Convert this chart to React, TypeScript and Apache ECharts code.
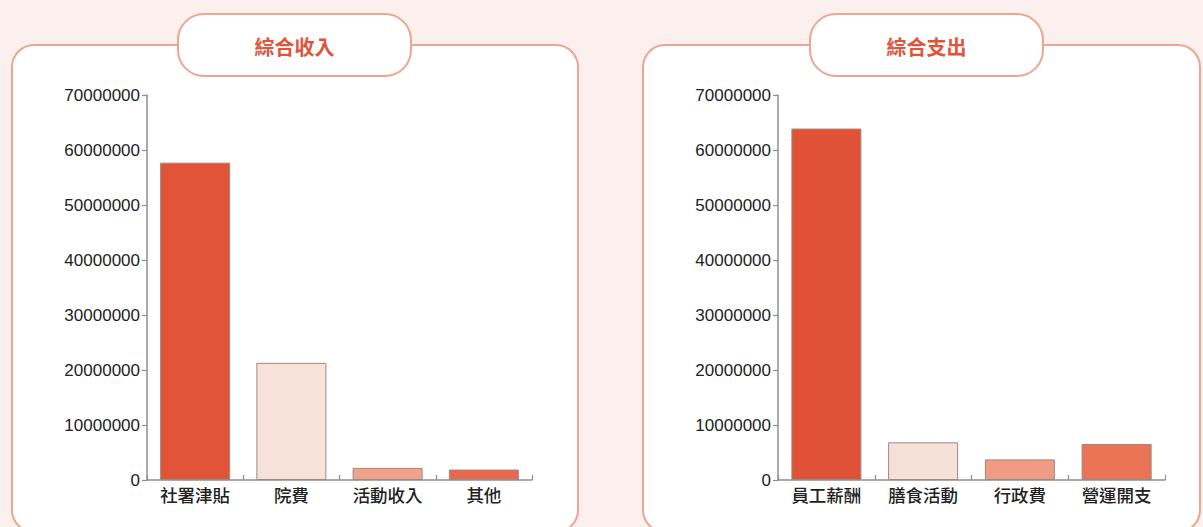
import React, { useEffect, useRef } from "react";
import * as echarts from "echarts";

const incomeTitle = "綜合收入";
const expenseTitle = "綜合支出";
const incomeCategories = ["社署津貼", "院費", "活動收入", "其他"];
const incomeValues = [57700000, 21300000, 2200000, 1900000];
const incomeColors = ["#e15438", "#f8e1d8", "#f1a28c", "#e8674d"];
const expenseCategories = ["員工薪酬", "膳食活動", "行政費", "營運開支"];
const expenseValues = [63900000, 6850000, 3750000, 6550000];
const expenseColors = ["#e05237", "#f7e0d7", "#f09b83", "#eb7356"];
const yMin = 0;
const yMax = 70000000;
const yInterval = 10000000;

const CJK = "'Noto Sans CJK TC', 'Noto Sans CJK SC', sans-serif";
const LATIN = "'Liberation Sans', Arial, sans-serif";
const BORDER = "#eca690";

function makeYAxis(gridIndex: number) {
  return {
    type: "value",
    gridIndex,
    min: yMin,
    max: yMax,
    interval: yInterval,
    splitLine: { show: false },
    axisLine: { show: true, lineStyle: { color: "#8e8e8e", width: 1.5 } },
    axisTick: { show: true, length: 5, lineStyle: { color: "#8e8e8e", width: 1.2 } },
    axisLabel: {
      margin: 7,
      color: "#222",
      fontSize: 17,
      fontFamily: LATIN,
      formatter: (v: number) => String(v),
    },
  };
}

function makeXAxis(gridIndex: number, cats: string[]) {
  return {
    type: "category",
    gridIndex,
    data: cats,
    axisLine: { show: true, lineStyle: { color: "#8e8e8e", width: 1.5 } },
    axisTick: { show: true, inside: true, length: 5, lineStyle: { color: "#8e8e8e", width: 1.2 } },
    axisLabel: {
      margin: 6,
      color: "#222",
      fontSize: 17.5,
      fontWeight: 500,
      fontFamily: CJK,
    },
  };
}

function makeSeries(idx: number, values: number[], colors: string[]) {
  return {
    type: "bar",
    xAxisIndex: idx,
    yAxisIndex: idx,
    barWidth: 70,
    data: values.map((v, i) => ({
      value: v,
      itemStyle: { color: colors[i], borderColor: "#9a8a82", borderWidth: 1 },
    })),
  };
}

function panel(x: number, w: number) {
  return {
    type: "rect",
    z: -10,
    shape: { x, y: 45, width: w, height: 487, r: 22 },
    style: { fill: "#ffffff", stroke: BORDER, lineWidth: 2 },
  };
}

function pill(x: number, w: number, title: string) {
  return [
    {
      type: "rect",
      z: -5,
      shape: { x, y: 14, width: w, height: 62, r: 26 },
      style: { fill: "#ffffff", stroke: BORDER, lineWidth: 2 },
    },
    {
      type: "text",
      z: -4,
      x: x + w / 2,
      y: 46,
      style: {
        text: title,
        fill: "#e0553a",
        fontSize: 20,
        fontWeight: "bold",
        fontFamily: CJK,
        align: "center",
        verticalAlign: "middle",
      },
    },
  ];
}

export default function App() {
  const ref = useRef<HTMLDivElement>(null);
  useEffect(() => {
    if (!ref.current) return;
    const chart = echarts.init(ref.current, undefined, { renderer: "svg" });
    chart.setOption({
      animation: false,
      backgroundColor: "#fbf0ed",
      grid: [
        { left: 147, top: 95, width: 385, height: 385 },
        { left: 778, top: 95, width: 387, height: 385 },
      ],
      xAxis: [makeXAxis(0, incomeCategories), makeXAxis(1, expenseCategories)],
      yAxis: [makeYAxis(0), makeYAxis(1)],
      series: [makeSeries(0, incomeValues, incomeColors), makeSeries(1, expenseValues, expenseColors)],
      graphic: [
        panel(12, 566),
        panel(643, 557),
        ...pill(178, 233, incomeTitle),
        ...pill(810, 233, expenseTitle),
      ],
    });
    return () => chart.dispose();
  }, []);
  return (
    <div
      ref={ref}
      style={{ position: "fixed", left: 0, top: 0, width: 1203, height: 527 }}
    />
  );
}
